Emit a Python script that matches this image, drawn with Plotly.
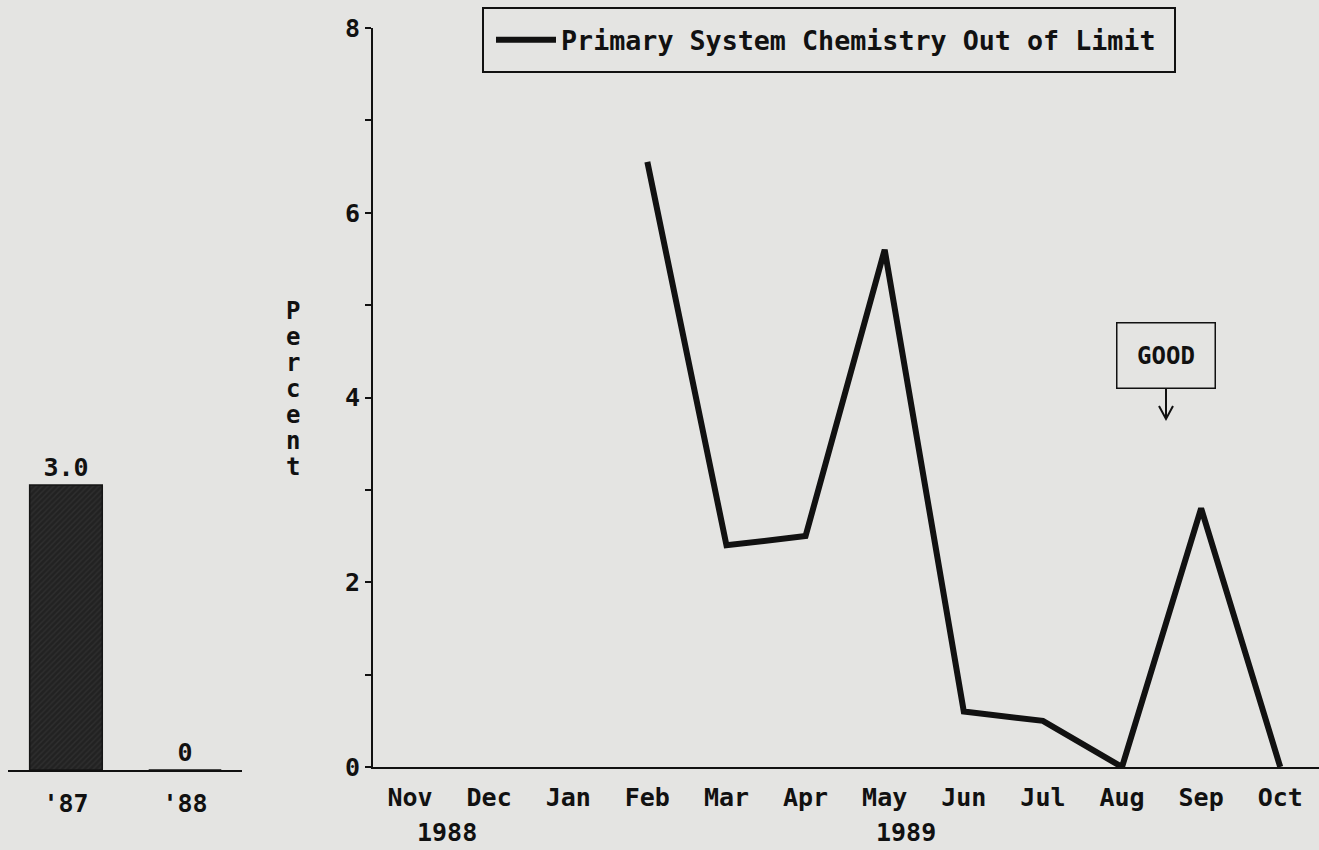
import plotly.graph_objects as go

# Annual summary bars
years = ["'87", "'88"]
year_values = [3.0, 0]

# Monthly percentage, Nov 1988 - Oct 1989 (no data Nov-Jan)
months = ["Nov", "Dec", "Jan", "Feb", "Mar", "Apr", "May", "Jun", "Jul", "Aug", "Sep", "Oct"]
pct_out_of_limit = [None, None, None, 6.55, 2.4, 2.5, 5.6, 0.6, 0.5, 0.0, 2.8, 0.0]
series_name = "Primary System Chemistry Out of Limit"

y_ticks = [0, 2, 4, 6, 8]
axis_title_letters = list("Percent")

W, H = 1319, 850
FONT = "DejaVu Sans Mono"
INK = "#111111"
BG = "#e4e4e2"


def px_x(p):
    return p / W


def px_y(p):
    return 1 - p / H


def font(size=26):
    return dict(family=FONT, size=size, color=INK, weight="bold")


fig = go.Figure()

fig.add_trace(go.Bar(
    x=years, y=year_values,
    xaxis="x2", yaxis="y2",
    width=0.61,
    marker=dict(
        color="#262626",
        line=dict(color="#151515", width=1.5),
        pattern=dict(shape="/", fgcolor="#3c3c3c", bgcolor="#222222", size=4, solidity=0.35),
    ),
    text=[f"{v:.1f}" if v else "0" for v in year_values],
    textposition="outside",
    textfont=font(25),
    cliponaxis=False,
    showlegend=False,
))

fig.add_trace(go.Scatter(
    x=months, y=pct_out_of_limit,
    mode="lines",
    name=series_name,
    line=dict(color=INK, width=6),
    connectgaps=False,
))

fig.update_layout(
    width=W, height=H,
    margin=dict(l=0, r=0, t=0, b=0, autoexpand=False),
    paper_bgcolor=BG,
    plot_bgcolor=BG,
    font=font(25),
    showlegend=True,
    legend=dict(
        x=px_x(491), y=px_y(40), xanchor="left", yanchor="middle",
        bgcolor="rgba(0,0,0,0)", borderwidth=0,
        font=font(26.7),
        itemwidth=60,
    ),
    xaxis=dict(
        domain=[px_x(373), 1],
        type="category",
        categoryorder="array", categoryarray=months,
        range=[-0.468, 11.49],
        showline=True, linecolor=INK, linewidth=2,
        showgrid=False, zeroline=False, automargin=False,
        ticks="", ticklabelstandoff=7,
        tickfont=font(25),
    ),
    yaxis=dict(
        domain=[px_y(767), px_y(28)],
        range=[0, 8],
        tickvals=y_ticks,
        showline=True, linecolor=INK, linewidth=2,
        showgrid=False, zeroline=False, automargin=False,
        ticks="outside", ticklen=6, tickwidth=2, tickcolor=INK,
        minor=dict(dtick=1, ticks="outside", ticklen=6, tickwidth=2, tickcolor=INK, showgrid=False),
        tickfont=font(25),
    ),
    xaxis2=dict(
        domain=[px_x(8), px_x(242)],
        anchor="y2",
        type="category",
        categoryorder="array", categoryarray=years,
        range=[-0.487, 1.479],
        showline=True, linecolor=INK, linewidth=2,
        showgrid=False, zeroline=False, automargin=False,
        ticks="", ticklabelstandoff=10,
        tickfont=font(25),
    ),
    yaxis2=dict(
        domain=[px_y(770), 1],
        anchor="x2",
        range=[0, 770 / 95],
        visible=False,
    ),
)

# Legend frame
fig.add_shape(type="rect", xref="paper", yref="paper",
              x0=px_x(483), x1=px_x(1175), y0=px_y(72), y1=px_y(8),
              line=dict(color=INK, width=2), layer="above")

# Year labels beneath the month axis
for label, pos in [("1988", 0.47), ("1989", 6.27)]:
    fig.add_annotation(x=pos, y=px_y(832), xref="x", yref="paper", text=label,
                       xanchor="center", yanchor="middle",
                       showarrow=False, font=font(25))

# Stacked vertical axis title, one letter per line
for i, ch in enumerate(axis_title_letters):
    fig.add_annotation(x=px_x(293), y=px_y(310 + i * 26), xref="paper", yref="paper",
                       text=ch, showarrow=False, xanchor="center", yanchor="middle",
                       height=23, borderpad=0,
                       font=font(24))

# "GOOD" direction marker with downward arrow
fig.add_annotation(x=px_x(1166), y=px_y(355), xref="paper", yref="paper",
                   text="GOOD", showarrow=False, xanchor="center", yanchor="middle",
                   width=95, height=62, bordercolor=INK, borderwidth=1.5,
                   bgcolor=BG, font=font(24))
fig.add_shape(type="line", xref="paper", yref="paper",
              x0=px_x(1166), x1=px_x(1166), y0=px_y(389), y1=px_y(418),
              line=dict(color=INK, width=2))
fig.add_shape(type="path", xref="paper", yref="paper",
              path=(f"M {px_x(1159)} {px_y(406)} L {px_x(1166)} {px_y(419)} "
                    f"L {px_x(1173)} {px_y(406)}"),
              line=dict(color=INK, width=2))

fig.write_html("out.html")
